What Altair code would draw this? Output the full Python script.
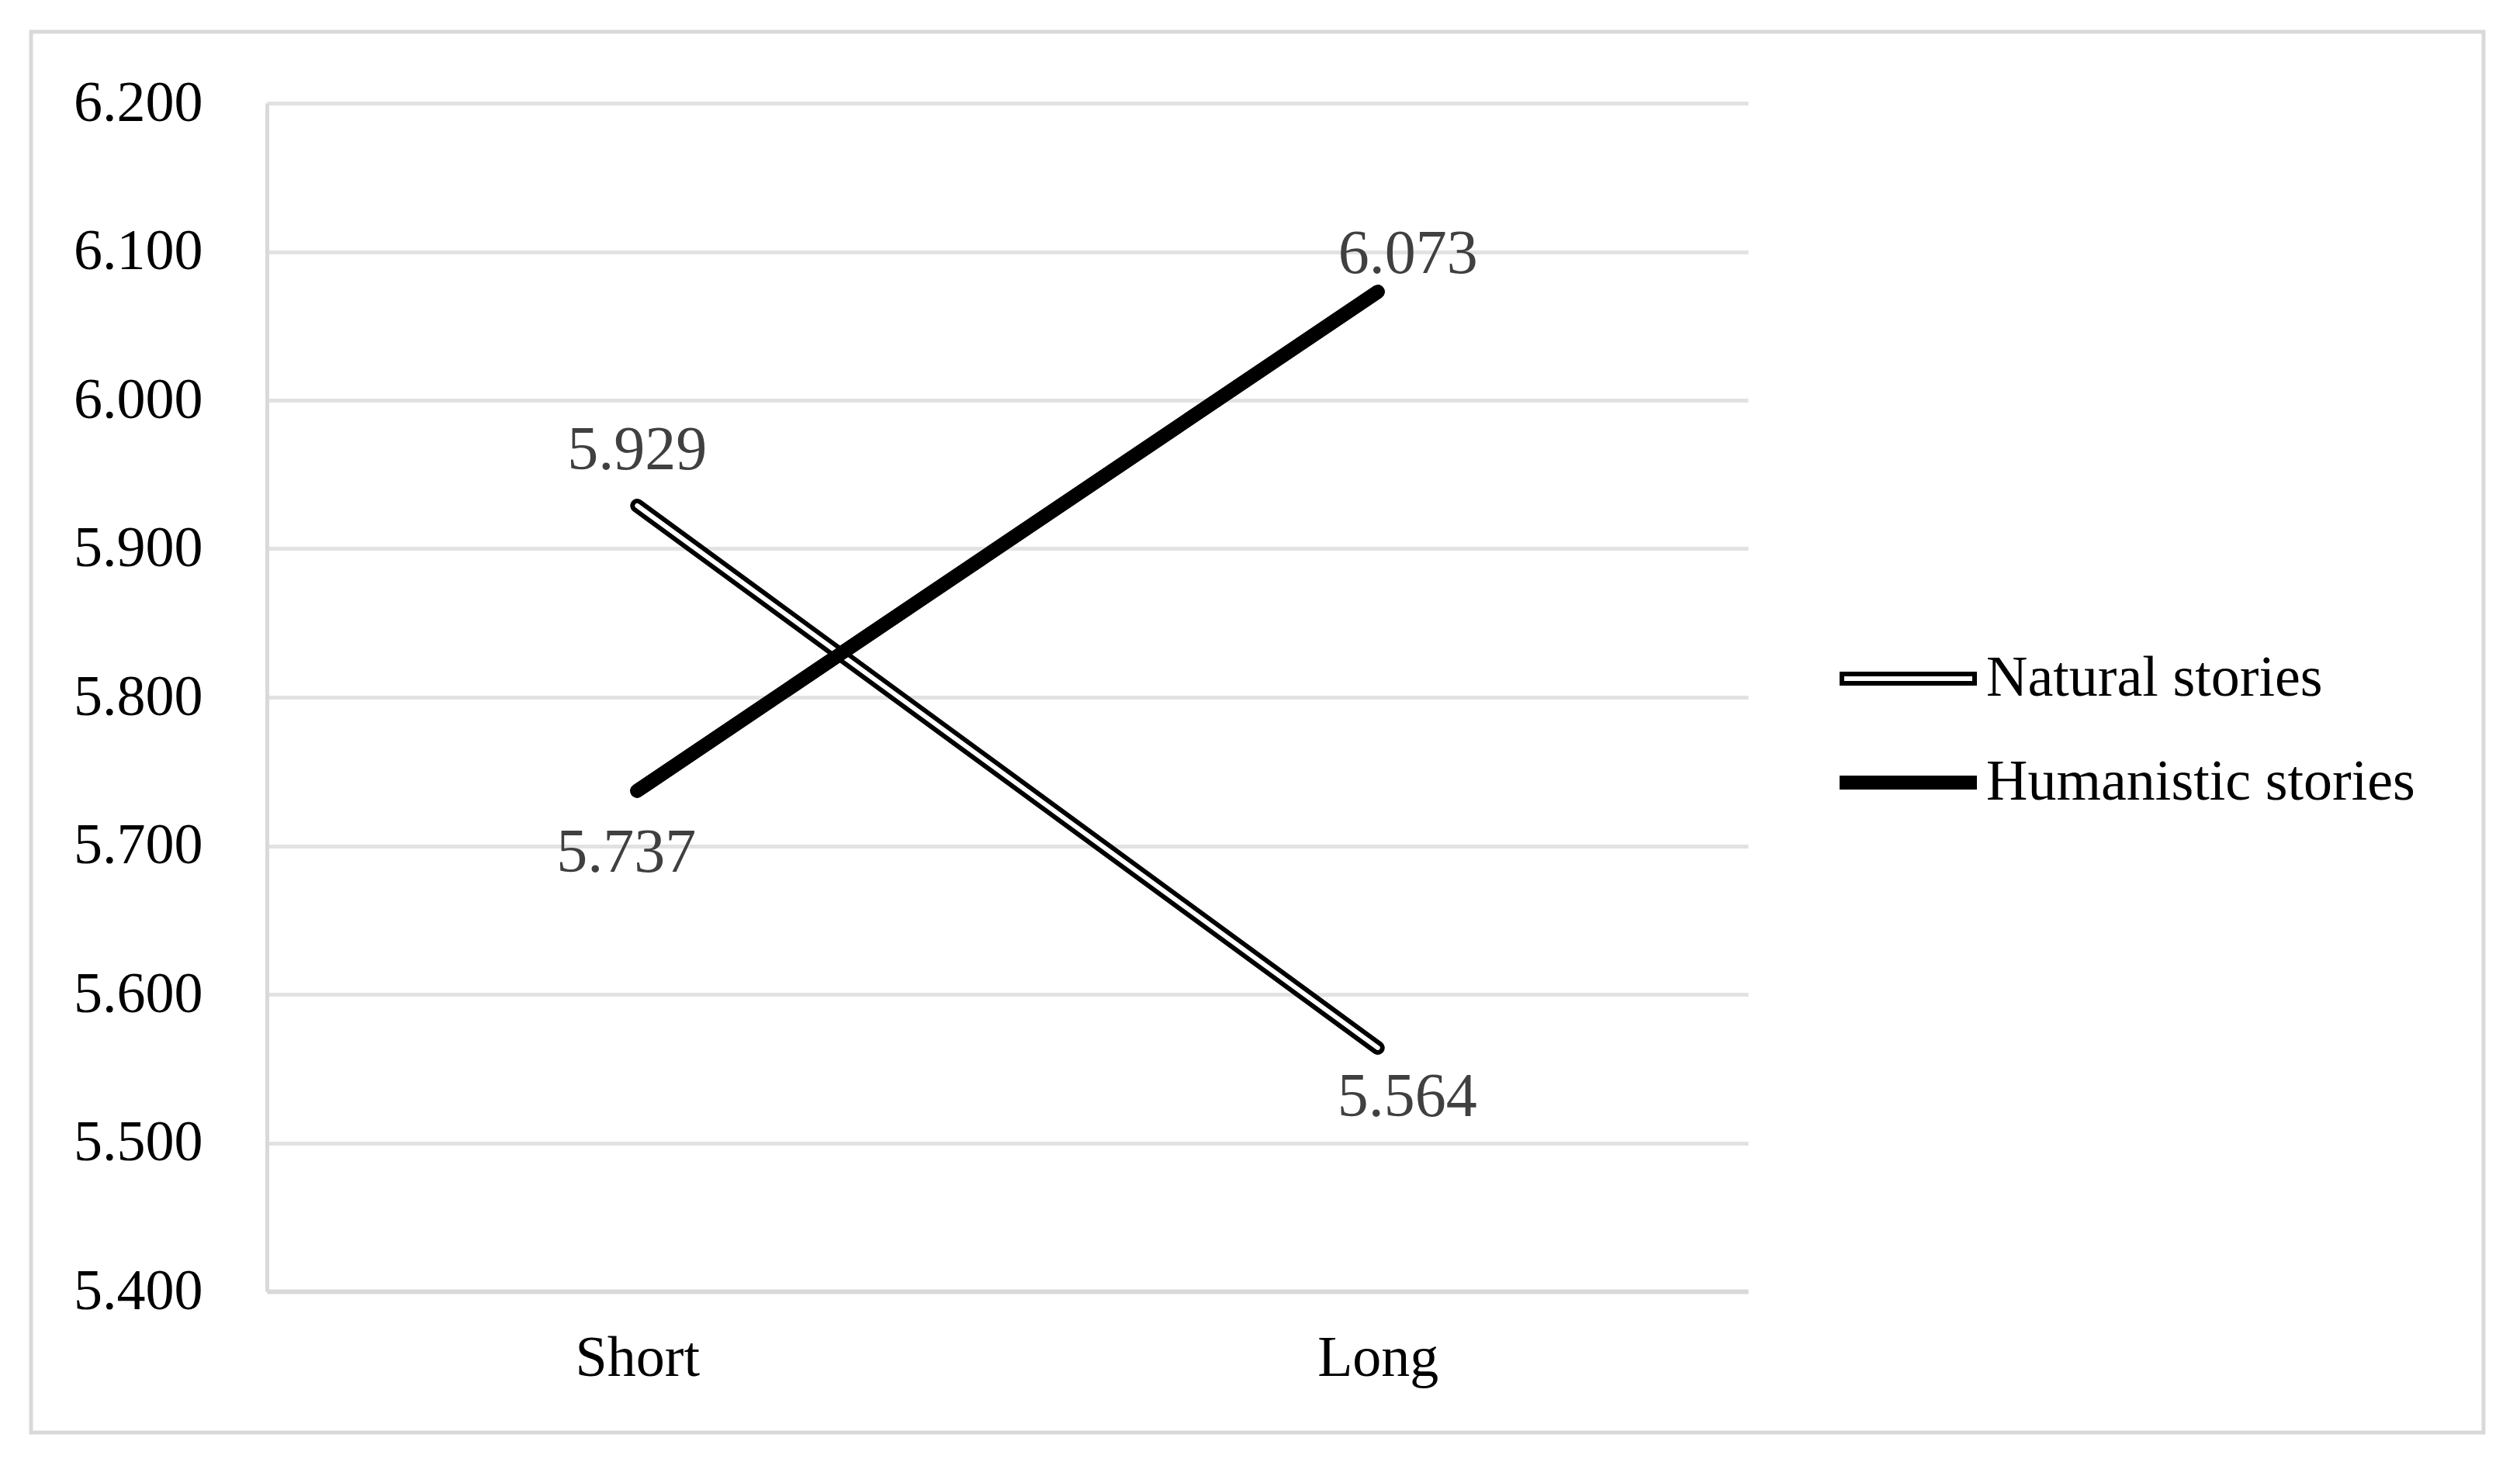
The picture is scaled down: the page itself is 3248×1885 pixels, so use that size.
import altair as alt
import pandas as pd

categories = ["Short", "Long"]
series_names = ["Natural stories", "Humanistic stories"]
natural_values = [5.929, 5.564]
humanistic_values = [5.737, 6.073]
y_ticks = [5.4, 5.5, 5.6, 5.7, 5.8, 5.9, 6.0, 6.1, 6.2]

rows = []
for c, v in zip(categories, natural_values):
    rows.append({"length": c, "series": series_names[0], "value": v})
for c, v in zip(categories, humanistic_values):
    rows.append({"length": c, "series": series_names[1], "value": v})
df = pd.DataFrame(rows)

FONT = "Liberation Serif"
FS = 74
LABEL_FS = 80

x_enc = alt.X(
    "length:N",
    sort=categories,
    scale=alt.Scale(type="point", domain=categories, padding=0.5),
    axis=alt.Axis(
        title=None, labelAngle=0, ticks=False, labelFont=FONT, labelFontSize=FS,
        labelColor="#000000", labelPadding=50, domainColor="#d9d9d9", domainWidth=6,
        grid=False,
    ),
)
y_enc = alt.Y(
    "value:Q",
    scale=alt.Scale(domain=[5.4, 6.2], nice=False, zero=False),
    axis=alt.Axis(
        title=None, values=y_ticks, format=".3f", ticks=False, labelFont=FONT,
        labelFontSize=FS, labelColor="#000000", labelPadding=83,
        domainColor="#d9d9d9", domainWidth=5, grid=True, gridColor="#e2e2e2",
        gridWidth=5,
    ),
)

base = alt.Chart(df)

border = alt.Chart(alt.Data(values=[{"k": 1}])).mark_rect(
    fillOpacity=0, stroke="#d9d9d9", strokeWidth=5
).encode(
    x=alt.value(-304), x2=alt.value(2857), y=alt.value(-92), y2=alt.value(1714)
)

outer = base.mark_line(strokeWidth=18, strokeCap="round", strokeJoin="round").encode(
    x=x_enc,
    y=y_enc,
    stroke=alt.Stroke(
        "series:N",
        sort=series_names,
        scale=alt.Scale(domain=series_names, range=["#000000", "#000000"]),
        legend=alt.Legend(
            orient="none", legendX=2018, legendY=675, title=None,
            symbolType="stroke", symbolSize=31329, symbolStrokeWidth=18,
            labelFont=FONT, labelFontSize=FS, labelColor="#000000",
            labelOffset=3, clipHeight=134, rowPadding=0, padding=0,
            symbolOffset=0, zindex=1, labelLimit=1000,
        ),
    ),
)

inner = base.mark_line(strokeWidth=6, strokeCap="round", strokeJoin="round").encode(
    x=x_enc,
    y=y_enc,
    stroke=alt.Stroke(
        "series:N",
        sort=series_names,
        scale=alt.Scale(domain=series_names, range=["#ffffff", "#000000"]),
        legend=alt.Legend(
            orient="none", legendX=2030, legendY=675, title=None,
            symbolType="stroke", symbolSize=27225, symbolStrokeWidth=6,
            labelFont=FONT, labelFontSize=FS, labelColor="#000000",
            labelExpr="''", labelOffset=3, clipHeight=134, rowPadding=0,
            padding=0, symbolOffset=0, zindex=2, labelLimit=1000,
        ),
    ),
)

top_line = base.transform_filter(
    alt.datum.series == series_names[1]
).mark_line(strokeWidth=18, strokeCap="round", color="#000000").encode(x=x_enc, y=y_enc)


def label_layer(series, cat, dx, dy):
    return base.transform_filter(
        (alt.datum.series == series) & (alt.datum.length == cat)
    ).mark_text(
        font=FONT, fontSize=LABEL_FS, color="#404040", baseline="middle", align="center",
        dx=dx, dy=dy,
    ).encode(x=x_enc, y=y_enc, text=alt.Text("value:Q", format=".3f"))


labels = [
    label_layer(series_names[0], categories[0], 0, -71),
    label_layer(series_names[0], categories[1], 38, 64),
    label_layer(series_names[1], categories[0], -14, 80),
    label_layer(series_names[1], categories[1], 39, -48),
]

chart = alt.layer(border, outer, inner, top_line, *labels).resolve_scale(
    stroke="independent"
).resolve_legend(stroke="independent").properties(
    width=1909,
    height=1532,
    autosize=alt.AutoSizeParams(type="none"),
    padding={"left": 336, "top": 125, "right": 980, "bottom": 205},
    background="#ffffff",
).configure_view(strokeWidth=0)

chart.save("out.html", embed_options={"renderer": "svg", "actions": False})
